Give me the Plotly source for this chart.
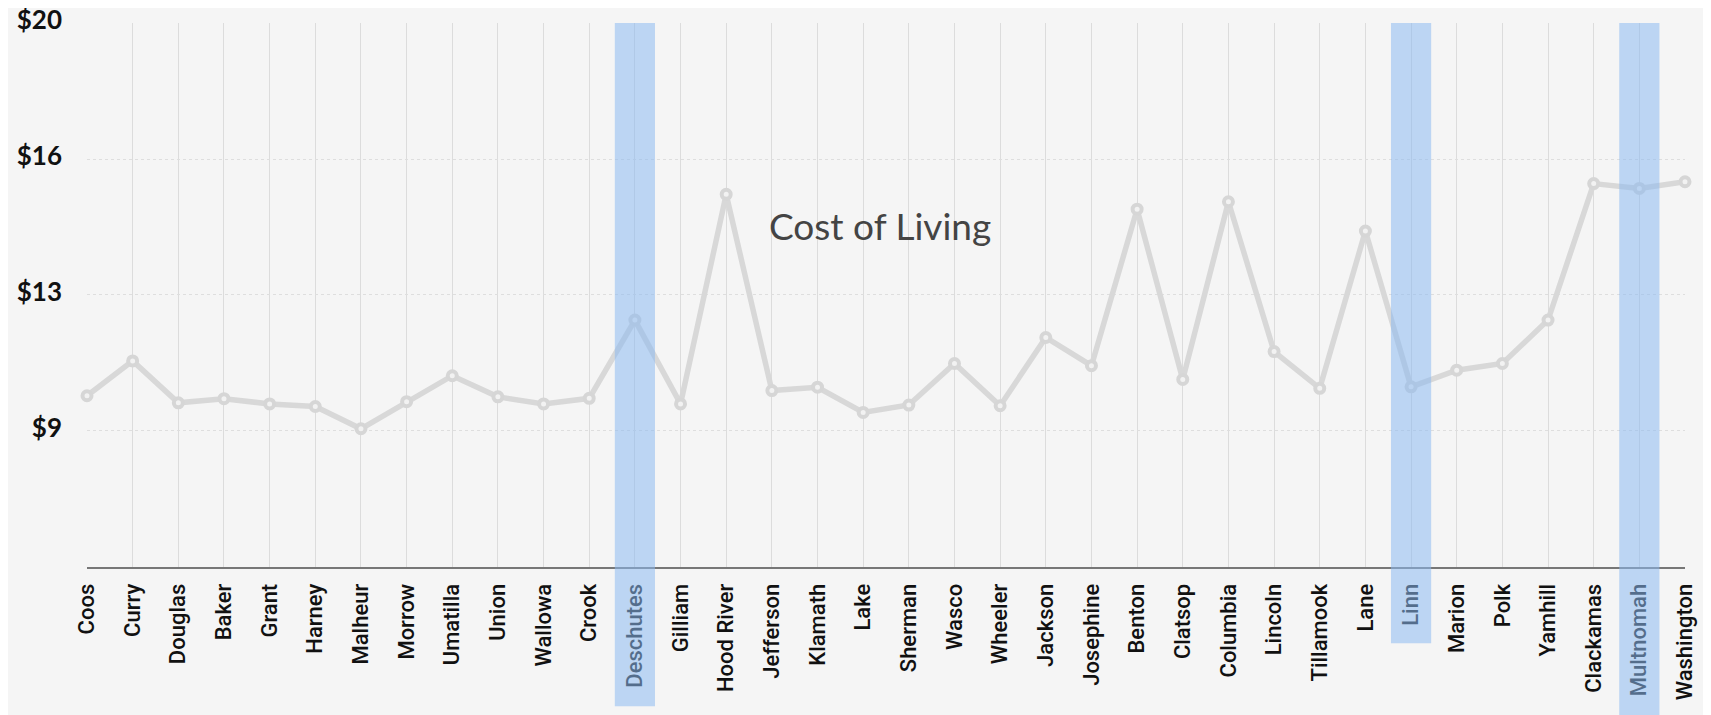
import plotly.graph_objects as go

counties = ["Coos", "Curry", "Douglas", "Baker", "Grant", "Harney", "Malheur", "Morrow",
            "Umatilla", "Union", "Wallowa", "Crook", "Deschutes", "Gilliam", "Hood River",
            "Jefferson", "Klamath", "Lake", "Sherman", "Wasco", "Wheeler", "Jackson",
            "Josephine", "Benton", "Clatsop", "Columbia", "Lincoln", "Tillamook", "Lane",
            "Linn", "Marion", "Polk", "Yamhill", "Clackamas", "Multnomah", "Washington"]
cost_of_living = [9.95, 10.89, 9.76, 9.87, 9.73, 9.66, 9.06, 9.79,
                  10.49, 9.92, 9.73, 9.88, 11.99, 9.73, 15.38,
                  10.09, 10.18, 9.50, 9.70, 10.82, 9.68, 11.52,
                  10.76, 14.98, 10.39, 15.18, 11.14, 10.15, 14.39,
                  10.19, 10.64, 10.82, 11.99, 15.67, 15.54, 15.72]
highlighted = ["Deschutes", "Linn", "Multnomah"]
band_bottoms = [-0.256, -0.140, -0.29]   # paper coords, below labels
y_tick_vals = [9, 12.667, 16.333, 20]
y_tick_text = ["$9", "$13", "$16", "$20"]
y_range = [5.333, 20]
series_name = "Cost of Living"

idx = list(range(len(counties)))

fig = go.Figure()
fig.add_trace(go.Scatter(
    x=idx, y=cost_of_living, mode="lines+markers", name=series_name,
    line=dict(color="#d8d8d8", width=5.5),
    marker=dict(symbol="circle", size=9, color="#f2f2f2",
                line=dict(color="#d6d6d6", width=4)),
    cliponaxis=False,
    hoverinfo="x+y", showlegend=False,
))

shapes = []
for name, yb in zip(highlighted, band_bottoms):
    i = counties.index(name)
    shapes.append(dict(type="rect", xref="x", yref="paper",
                       x0=i - 0.44, x1=i + 0.44, y0=yb, y1=1,
                       fillcolor="rgb(140,185,240)", opacity=0.55,
                       line=dict(width=0), layer="above"))

fig.update_layout(
    width=1711, height=715,
    margin=dict(l=79, r=34, t=15, b=156, pad=0),
    paper_bgcolor="#f5f5f5", plot_bgcolor="#f5f5f5",
    shapes=shapes,
    annotations=[dict(text=series_name, xref="paper", yref="paper",
                      x=0.4964, y=0.628, xanchor="center", yanchor="middle",
                      showarrow=False,
                      font=dict(family="Lato, Noto Sans, sans-serif", size=37, color="#444444"))],
    xaxis=dict(
        range=[0, len(counties) - 1],
        tickmode="array", tickvals=idx, ticktext=counties,
        tickangle=-90, automargin=False, ticklabeloverflow="allow",
        tickfont=dict(family="Roboto, sans-serif", size=22, color="#111111", weight=500),
        showgrid=True, gridcolor="#dcdcdc", gridwidth=1,
        showline=True, linecolor="#777777", linewidth=2,
        ticks="", ticklabelstandoff=6,
        zeroline=False, fixedrange=True,
    ),
    yaxis=dict(
        range=y_range, automargin=False, ticklabeloverflow="allow",
        tickmode="array", tickvals=y_tick_vals, ticktext=y_tick_text,
        tickfont=dict(family="Lato, sans-serif", size=26, color="#111111", weight="bold"),
        showgrid=True, gridcolor="#dedede", gridwidth=1, griddash="dot",
        showline=False, zeroline=False, ticks="", ticklabelstandoff=24,
        ticklabelshift=-3,
        fixedrange=True,
    ),
)

fig.write_html("out.html")
